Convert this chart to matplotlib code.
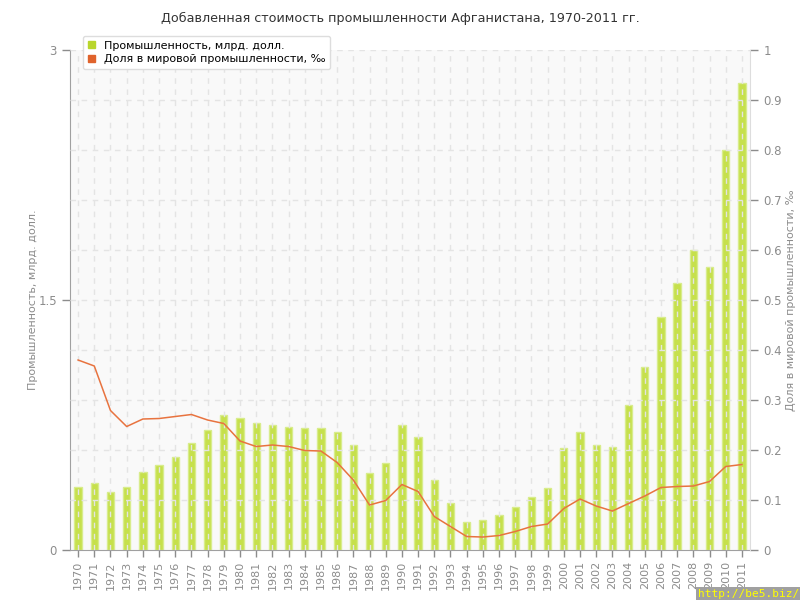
import matplotlib
matplotlib.use('Agg')
import matplotlib.pyplot as plt
import numpy as np
from matplotlib.patches import Patch

plt.rcParams['font.family'] = ['DejaVu Sans']

years = [str(y) for y in range(1970, 2012)]
# добавленная стоимость промышленности, млрд. долл.
industry = [0.38, 0.40, 0.35, 0.38, 0.47, 0.51, 0.56, 0.64, 0.72, 0.81,
            0.79, 0.76, 0.75, 0.74, 0.73, 0.73, 0.71, 0.63, 0.46, 0.52,
            0.75, 0.68, 0.42, 0.28, 0.17, 0.18, 0.21, 0.26, 0.32, 0.37,
            0.61, 0.71, 0.63, 0.62, 0.87, 1.10, 1.40, 1.60, 1.80, 1.70,
            2.40, 2.80]
# доля в мировой промышленности, ‰
share = [0.380, 0.368, 0.279, 0.247, 0.262, 0.263, 0.267, 0.271, 0.260, 0.253,
         0.218, 0.207, 0.210, 0.207, 0.199, 0.198, 0.175, 0.140, 0.090, 0.099,
         0.131, 0.117, 0.067, 0.047, 0.027, 0.026, 0.029, 0.037, 0.047, 0.052,
         0.083, 0.102, 0.088, 0.078, 0.093, 0.108, 0.125, 0.127, 0.128, 0.137,
         0.167, 0.171]

grey = '#8c8c8c'
x = np.arange(len(years))

fig = plt.figure(figsize=(8, 6), dpi=100)
ax = fig.add_axes([0.0875, 0.0833, 0.85, 0.8334])
ax.set_facecolor('#f9f9f9')

ax.bar(x, industry, width=0.45, color='#c6e04c', edgecolor='#d8ec8c',
       linewidth=1, zorder=2, label='Промышленность, млрд. долл.')
ax.set_xlim(-0.5, len(years) - 0.5)
ax.set_ylim(0, 3)
ax.set_yticks([0, 1.5, 3])
ax.set_yticklabels(['0', '1.5', '3'])
ax.set_xticks(x)
ax.set_xticklabels(years, rotation=90)
ax.set_ylabel('Промышленность, млрд. долл.', color=grey, fontsize=8, labelpad=0)

# сетка
for xi in x:
    ax.axvline(xi, color='#e4e4e4', lw=1, ls=(0, (4, 4)), zorder=3)
for yv in np.arange(0.3, 3.0, 0.3):
    ax.axhline(yv, color='#e4e4e4', lw=1, ls=(0, (4, 4)), zorder=3)

ax2 = ax.twinx()
ax2.plot(x, share, color='#e8733f', lw=1.1, zorder=4,
         label='Доля в мировой промышленности, ‰')
ax2.set_ylim(0, 1)
ax2.set_yticks(np.arange(0, 1.01, 0.1))
ax2.set_yticklabels(['0'] + ['%.1f' % v for v in np.arange(0.1, 0.95, 0.1)] + ['1'])
ax2.set_ylabel('Доля в мировой промышленности, ‰', color=grey, fontsize=8, labelpad=3)

for a in (ax, ax2):
    for s in a.spines.values():
        s.set_visible(False)
    a.tick_params(colors=grey, labelsize=8.5, length=6, width=1)
ax.spines['left'].set_visible(True)
ax.spines['left'].set_color('#a0a0a0')
ax.spines['bottom'].set_visible(True)
ax.spines['bottom'].set_color('#a0a0a0')
ax2.spines['right'].set_visible(True)
ax2.spines['right'].set_color('#dddddd')
ax.tick_params(axis='x', length=5, pad=3, labelsize=8)

fig.text(0.5, 0.97, 'Добавленная стоимость промышленности Афганистана, 1970-2011 гг.',
         ha='center', va='center', fontsize=9.2, color='#333333')

_, l1 = ax.get_legend_handles_labels()
_, l2 = ax2.get_legend_handles_labels()
handles = [Patch(color='#b9d62c'), Patch(color='#e0632c')]
leg = fig.legend(handles, l1 + l2, loc='upper left', bbox_to_anchor=(0.097, 0.95),
                 fontsize=8, frameon=True, fancybox=True, shadow=False,
                 handlelength=0.6, handleheight=0.6, handletextpad=0.8,
                 borderpad=0.45, labelspacing=0.35, framealpha=1)
leg.get_frame().set_edgecolor('#dddddd')

fig.text(0.999, 0.001, 'http://be5.biz/', ha='right', va='bottom', fontsize=8,
         family='DejaVu Sans Mono', color='#ffff00',
         bbox=dict(facecolor='#a0a0a0', edgecolor='none', pad=1.5))

fig.savefig('out.png', dpi=100)
